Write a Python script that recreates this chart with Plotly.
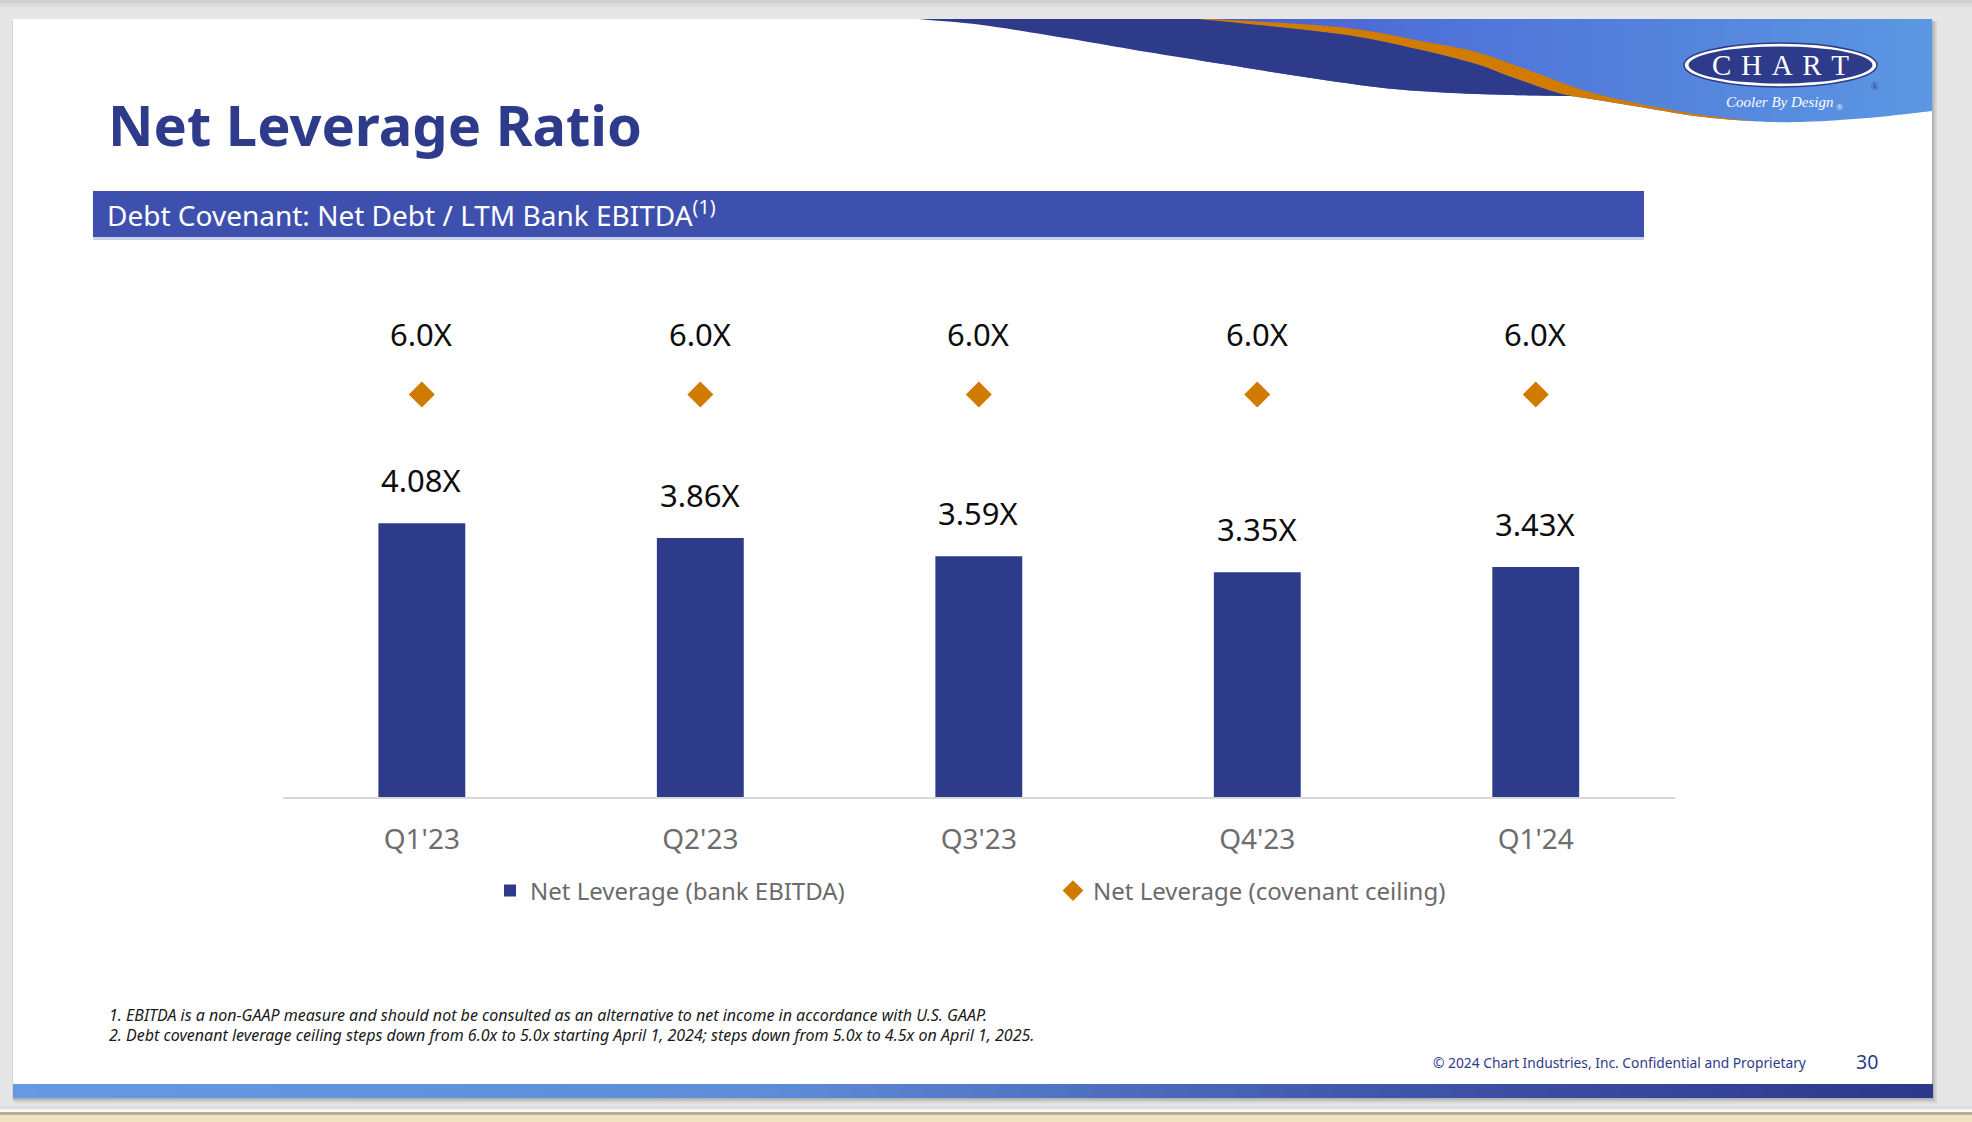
import numpy as np
import plotly.graph_objects as go

# ---------------- data ----------------
categories = ["Q1'23", "Q2'23", "Q3'23", "Q4'23", "Q1'24"]
net_leverage = [4.08, 3.86, 3.59, 3.35, 3.43]
covenant_ceiling = [6.0, 6.0, 6.0, 6.0, 6.0]
series_names = ["Net Leverage (bank EBITDA)", "Net Leverage (covenant ceiling)"]

title_text = "Net Leverage Ratio"
header_text = "Debt Covenant: Net Debt / LTM Bank EBITDA<sup>(1)</sup>"
footnotes = [
    "1. EBITDA is a non-GAAP measure and should not be consulted as an alternative to net income in accordance with U.S. GAAP.",
    "2. Debt covenant leverage ceiling steps down from 6.0x to 5.0x starting April 1, 2024; steps down from 5.0x to 4.5x on April 1, 2025.",
]
footer_text = "© 2024 Chart Industries, Inc. Confidential and Proprietary"
page_number = "30"

# ---------------- helpers ----------------
W, H = 1972, 1122
FONT = "Noto Sans"
NAVY = "#2e3a8a"
ORANGE = "#d07a00"


def px(x):
    return x / W


def py(y):
    return 1 - y / H


def smooth(points, n=10):
    pts = np.array(points, float)
    ext = np.vstack([pts[0], pts, pts[-1]])
    out = []
    for i in range(1, len(ext) - 2):
        p0, p1, p2, p3 = ext[i - 1], ext[i], ext[i + 1], ext[i + 2]
        for t in np.linspace(0, 1, n, endpoint=False):
            t2, t3 = t * t, t * t * t
            out.append(0.5 * ((2 * p1) + (-p0 + p2) * t + (2 * p0 - 5 * p1 + 4 * p2 - p3) * t2
                              + (-p0 + 3 * p1 - 3 * p2 + p3) * t3))
    out.append(pts[-1])
    return np.array(out)


def seg(curve, xa, xb):
    xs, ys = curve[:, 0], curve[:, 1]
    pts = [(xa, np.interp(xa, xs, ys))]
    for x, y in curve:
        if xa < x < xb:
            pts.append((x, y))
    pts.append((xb, np.interp(xb, xs, ys)))
    return pts


def path(pts):
    return "M " + " L ".join(f"{px(x):.5f},{py(y):.5f}" for x, y in pts) + " Z"


def hex2rgb(h):
    h = h.lstrip("#")
    return np.array([int(h[i:i + 2], 16) for i in (0, 2, 4)], float)


def grad_color(x, stops):
    xs = [s[0] for s in stops]
    cols = np.array([hex2rgb(s[1]) for s in stops])
    c = [np.interp(x, xs, cols[:, k]) for k in range(3)]
    return "rgb(%d,%d,%d)" % tuple(int(round(v)) for v in c)


shapes = []


def rect(x0, y0, x1, y1, color, layer="below"):
    shapes.append(dict(type="rect", xref="paper", yref="paper", x0=px(x0), x1=px(x1),
                       y0=py(y1), y1=py(y0), fillcolor=color, line=dict(width=0), layer=layer))


# ---------------- slide background ----------------
rect(0, 0, W, 3, "#cfcfcf")
rect(0, 3, W, 7, "#dadada")
rect(0, 1106, W, 1109, "#dedede")
rect(0, 1109, W, 1112, "#f6f6f6")
rect(0, 1112, W, 1115, "#b7ae98")
rect(0, 1115, W, H, "#efe3c2")
# slide shadow
for i, a in enumerate([0.05, 0.05, 0.05, 0.04, 0.03, 0.02]):
    rect(13 - 1 + i * 0.5, 19 + 2, 1932 + i + 1, 1098 + i + 1, f"rgba(0,0,0,{a})")
rect(13, 19, 1932, 1098, "#ffffff")

# bottom gradient bar
bar_stops = [(13, "#6699e0"), (760, "#5f8dd8"), (1380, "#3f56aa"), (1932, "#2d3889")]
edges = np.linspace(13, 1932, 81)
for a, b in zip(edges[:-1], edges[1:]):
    rect(a, 1084, b + 1.0, 1098, grad_color((a + b) / 2, bar_stops))

# top-right swoosh
white_pts = [(918, 19), (982, 25), (1065, 38), (1147, 52), (1229, 65), (1311, 78), (1394, 89),
             (1476, 94), (1558, 96), (1578, 97), (1640, 107), (1695, 116), (1750, 121),
             (1800, 122), (1867, 118), (1932, 111)]
orange_upper_pts = [(1212, 19), (1339, 27), (1421, 41), (1476, 52), (1531, 71), (1586, 91),
                    (1640, 104), (1695, 114), (1750, 121)]
navy_upper_pts = [(1198, 19), (1339, 34), (1421, 50), (1476, 64), (1503, 74), (1531, 84),
                  (1558, 93), (1578, 97)]
wb = smooth(white_pts)
ou = smooth(orange_upper_pts)
nu = smooth(navy_upper_pts)

blue_stops = [(1200, "#4a5bd0"), (1450, "#4f74d9"), (1700, "#5585dc"), (1932, "#5b98e3")]
edges = np.linspace(1196, 1932, 47)
for a, b in zip(edges[:-1], edges[1:]):
    b2 = min(b + 1.0, 1932)
    bottom = seg(wb, a, b2)
    pts = [(a, 19), (b2, 19)] + bottom[::-1]
    shapes.append(dict(type="path", xref="paper", yref="paper", path=path(pts),
                       fillcolor=grad_color((a + b) / 2, blue_stops), line=dict(width=0),
                       layer="below"))

orange_poly = [(1198, 19), (1212, 19)] + [tuple(p) for p in ou[1:]] + \
    seg(wb, 1578, 1750)[::-1] + [tuple(p) for p in nu[::-1]]
shapes.append(dict(type="path", xref="paper", yref="paper", path=path(orange_poly),
                   fillcolor="#d17b00", line=dict(width=0), layer="below"))
navy_poly = [(918, 19)] + [tuple(p) for p in nu] + seg(wb, 918, 1578)[::-1]
shapes.append(dict(type="path", xref="paper", yref="paper", path=path(navy_poly),
                   fillcolor=NAVY, line=dict(width=0), layer="below"))

# logo ellipses
shapes.append(dict(type="circle", xref="paper", yref="paper", x0=px(1684), x1=px(1877),
                   y0=py(87), y1=py(43), fillcolor="#ffffff", line=dict(color=NAVY, width=1.5),
                   layer="below"))
shapes.append(dict(type="circle", xref="paper", yref="paper", x0=px(1688.5), x1=px(1872.5),
                   y0=py(83.5), y1=py(46.5), fillcolor=NAVY, line=dict(width=0), layer="below"))

# header bar
rect(93, 191, 1644, 237, "#3e50ae")
rect(93, 237, 1644, 240, "#c9d3ec")

# ---------------- traces ----------------
fig = go.Figure()
fig.add_trace(go.Bar(
    x=categories, y=net_leverage, name=series_names[0], width=0.312,
    marker=dict(color=NAVY, line=dict(width=0)), legend="legend",
    hoverinfo="skip",
))
fig.add_trace(go.Scatter(
    x=categories, y=covenant_ceiling, name=series_names[1], mode="markers",
    marker=dict(symbol="diamond", size=20, color=ORANGE, line=dict(width=0)),
    legend="legend2", hoverinfo="skip",
))

annotations = []
for c, v in zip(categories, net_leverage):
    annotations.append(dict(x=c, y=v, xref="x", yref="y", text=f"{v:.2f}X", showarrow=False,
                            yshift=43, yanchor="middle",
                            font=dict(family=FONT, size=31, color="#0d0d0d")))
for c, v in zip(categories, covenant_ceiling):
    annotations.append(dict(x=c, y=v, xref="x", yref="y", text=f"{v:.1f}X", showarrow=False,
                            yshift=61, yanchor="middle",
                            font=dict(family=FONT, size=31, color="#0d0d0d")))

# slide texts
annotations.append(dict(x=px(106), y=py(123.5), xref="paper", yref="paper", text=title_text,
                        showarrow=False, xanchor="left", yanchor="middle",
                        font=dict(family=FONT, size=56, color=NAVY, weight=700)))
annotations.append(dict(x=px(105), y=py(214), xref="paper", yref="paper", text=header_text,
                        showarrow=False, xanchor="left", yanchor="middle",
                        font=dict(family=FONT, size=28, color="#ffffff")))
for i, t in enumerate(footnotes):
    annotations.append(dict(x=px(107), y=py(1015 + 20 * i), xref="paper", yref="paper", text=t,
                            showarrow=False, xanchor="left", yanchor="middle",
                            font=dict(family=FONT, size=16, color="#1a1a1a", style="italic")))
annotations.append(dict(x=px(1809), y=py(1062), xref="paper", yref="paper", text=footer_text,
                        showarrow=False, xanchor="right", yanchor="middle",
                        font=dict(family=FONT, size=13.8, color=NAVY)))
annotations.append(dict(x=px(1867), y=py(1061), xref="paper", yref="paper", text=page_number,
                        showarrow=False, xanchor="center", yanchor="middle",
                        font=dict(family=FONT, size=19.5, color=NAVY)))
# logo texts
annotations.append(dict(x=px(1780.5), y=py(65.5), xref="paper", yref="paper",
                        text="C\u2004H\u2004A\u2004R\u2004T", showarrow=False,
                        xanchor="center", yanchor="middle",
                        font=dict(family="Liberation Serif", size=29, color="#ffffff")))
annotations.append(dict(x=px(1779), y=py(102.5), xref="paper", yref="paper",
                        text="Cooler By Design", showarrow=False, xanchor="center",
                        yanchor="middle",
                        font=dict(family="Liberation Serif", size=15, color="#ffffff",
                                  style="italic")))
annotations.append(dict(x=px(1839), y=py(107), xref="paper", yref="paper", text="®",
                        showarrow=False, xanchor="center", yanchor="middle",
                        font=dict(family="Liberation Serif", size=9, color="#ffffff")))
annotations.append(dict(x=px(1875), y=py(86), xref="paper", yref="paper", text="®",
                        showarrow=False, xanchor="center", yanchor="middle",
                        font=dict(family="Liberation Serif", size=10, color=NAVY)))

fig.update_layout(
    width=W, height=H,
    margin=dict(l=0, r=0, t=0, b=0, pad=0),
    paper_bgcolor="#e6e6e6",
    plot_bgcolor="rgba(0,0,0,0)",
    font=dict(family=FONT),
    shapes=shapes,
    annotations=annotations,
    bargap=0.2,
    xaxis=dict(
        domain=[px(282.6), px(1675)], range=[-0.5, 4.5], type="category",
        showline=True, linecolor="#d9d9d9", linewidth=2, showgrid=False, zeroline=False,
        ticks="", ticklabelstandoff=16,
        tickfont=dict(family=FONT, size=28, color="#6d6d6d"), fixedrange=True,
    ),
    yaxis=dict(
        domain=[py(797), py(294)], range=[0, 7.5], visible=False, fixedrange=True,
    ),
    legend=dict(
        x=px(490), y=py(891), xanchor="left", yanchor="middle", orientation="h",
        bgcolor="rgba(0,0,0,0)", borderwidth=0,
        font=dict(family=FONT, size=24, color="#6b6b6b"),
    ),
    legend2=dict(
        x=px(1053), y=py(891), xanchor="left", yanchor="middle", orientation="h",
        bgcolor="rgba(0,0,0,0)", borderwidth=0,
        font=dict(family=FONT, size=24, color="#6b6b6b"),
    ),
    showlegend=True,
)

fig.write_html(
    "out.html",
    config={"displayModeBar": False, "staticPlot": False},
    post_script="document.body.style.margin='0';document.body.style.overflow='hidden';",
)
